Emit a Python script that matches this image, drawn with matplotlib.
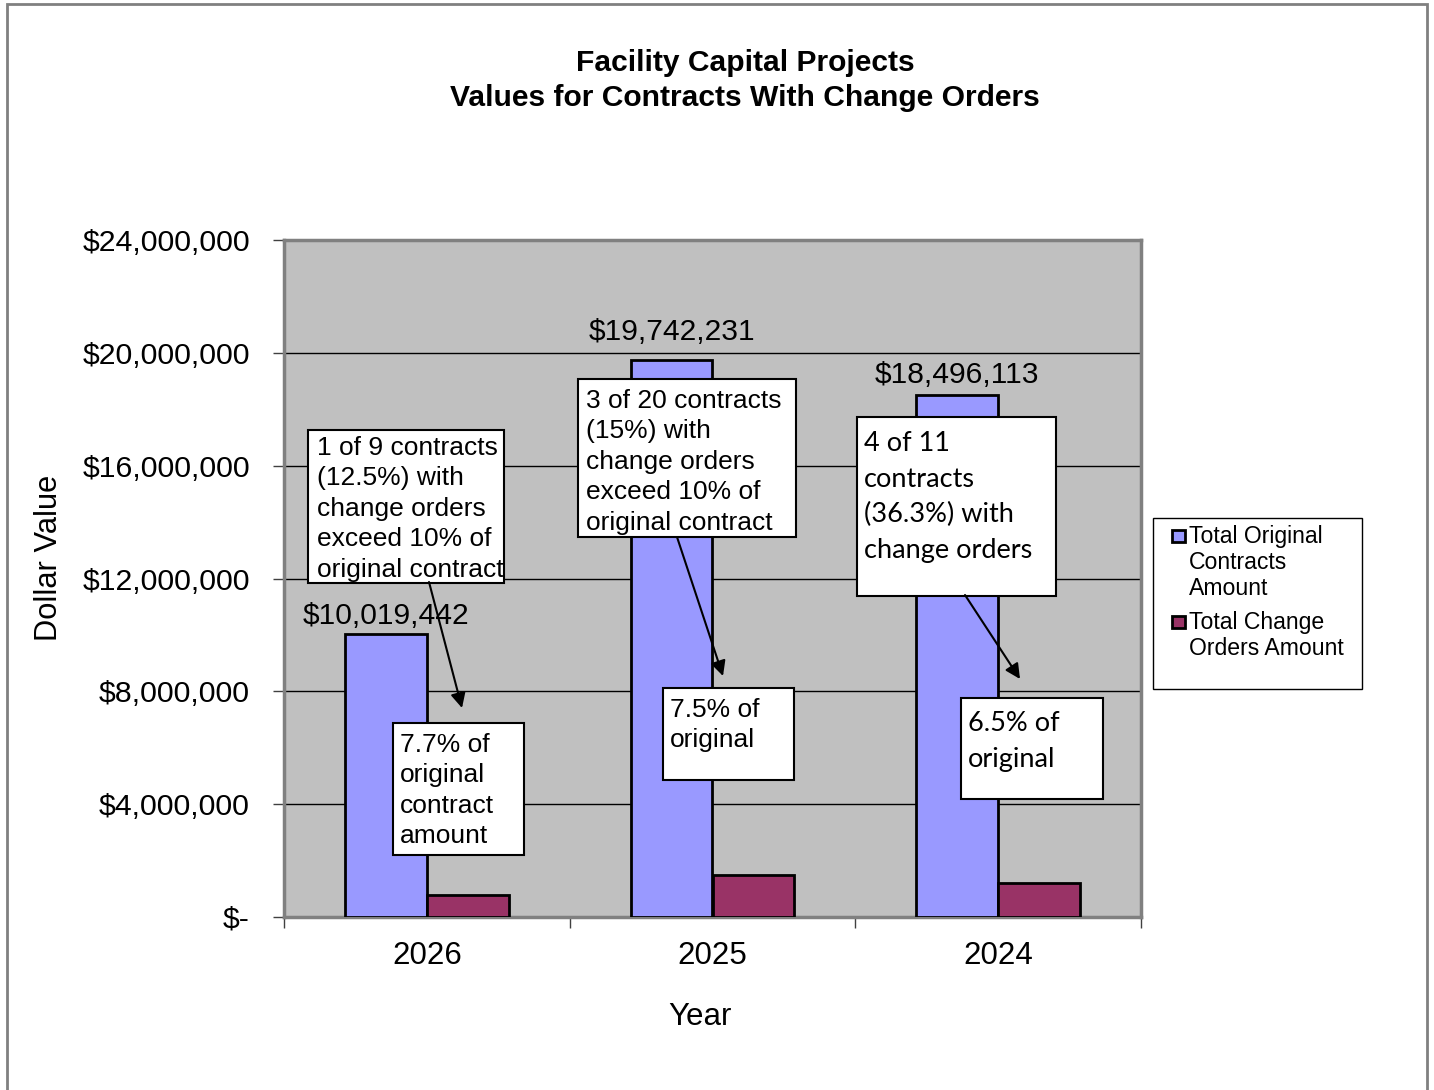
import matplotlib
matplotlib.use("Agg")
import matplotlib.pyplot as plt
from matplotlib.patches import Rectangle, FancyArrowPatch
from matplotlib.ticker import FuncFormatter, FixedLocator
import numpy as np

years = ["2026", "2025", "2024"]
original_amounts = [10019442, 19742231, 18496113]
change_amounts = [771497, 1480667, 1202247]
series_names = ["Total Original\nContracts\nAmount", "Total Change\nOrders Amount"]
series_colors = ["#9999FF", "#993366"]
bar_labels = ["$10,019,442", "$19,742,231", "$18,496,113"]

top_notes = [
    "1 of 9 contracts\n(12.5%) with\nchange orders\nexceed 10% of\noriginal contract",
    "3 of 20 contracts\n(15%) with\nchange orders\nexceed 10% of\noriginal contract",
    "4 of 11\ncontracts\n(36.3%) with\nchange orders",
]
bottom_notes = [
    "7.7% of\noriginal\ncontract\namount",
    "7.5% of\noriginal",
    "6.5% of\noriginal",
]

W, H = 1434, 1090
ARIAL = "Liberation Sans"
CALIBRI = "Lato"

fig = plt.figure(figsize=(W / 100, H / 100), dpi=100)


def fx(x):
    return x / W


def fy(y):
    return 1 - y / H


# outer border
fig.patches.append(Rectangle((fx(7), fy(1095)), fx(1427) - fx(7), fy(4) - fy(1095),
                             transform=fig.transFigure, fill=False,
                             edgecolor="#808080", lw=2, zorder=0))

ax = fig.add_axes([fx(284), fy(917), fx(1141) - fx(284), fy(240) - fy(917)])
ax.set_facecolor("#C0C0C0")

x = np.arange(len(years))
w = 0.287
ax.bar(x - w / 2, original_amounts, w, color=series_colors[0], edgecolor="black", lw=2,
       zorder=3)
ax.bar(x + w / 2, change_amounts, w, color=series_colors[1], edgecolor="black", lw=2,
       zorder=3)

label_offsets_pt = [13.5, 20, 14.5]
for xi, v, lab, off in zip(x, original_amounts, bar_labels, label_offsets_pt):
    ax.annotate(lab, (xi - w / 2, v), xytext=(0, off), textcoords="offset points",
                ha="center", va="center", fontsize=21.6, family=ARIAL, zorder=4)

ax.set_xlim(-0.5, 2.5)
ax.set_ylim(0, 24000000)
ax.yaxis.set_major_locator(FixedLocator(np.arange(0, 24000001, 4000000)))
ax.yaxis.set_major_formatter(FuncFormatter(lambda v, p: "$-" if v == 0 else f"${v:,.0f}"))
ax.set_xticks(x)
ax.set_xticklabels(years)
ax.set_xticks([-0.5, 0.5, 1.5, 2.5], minor=True)
ax.tick_params(axis="x", which="major", length=0, pad=17, labelsize=22.5)
ax.tick_params(axis="x", which="minor", length=8, width=1, color="#404040")
ax.tick_params(axis="y", length=8, width=1, color="#404040", pad=16.5, labelsize=21.8)
for lbl in ax.get_xticklabels() + ax.get_yticklabels():
    lbl.set_family(ARIAL)

ax.yaxis.grid(True, color="black", lw=1, zorder=1)
ax.set_axisbelow(True)
for s in ax.spines.values():
    s.set_color("#808080")
    s.set_linewidth(2.5)

ax.set_ylabel("Dollar Value", fontsize=22.2, family=ARIAL)
ax.yaxis.label.set_va("center")
ax.yaxis.set_label_coords((49 - 284) / 857, 1 - (558 - 240) / 677)
ax.set_xlabel("Year", fontsize=22.5, family=ARIAL)
ax.xaxis.label.set_va("center")
ax.xaxis.set_label_coords((700 - 284) / 857, -(1017 - 917) / 677)

fig.text(fx(745), fy(63), "Facility Capital Projects", ha="center", va="center",
         fontsize=21.6, fontweight="bold", family=ARIAL)
fig.text(fx(745), fy(98), "Values for Contracts With Change Orders", ha="center",
         va="center", fontsize=21.6, fontweight="bold", family=ARIAL)


def note_box(x0, y0, x1, y1, text, family, size, ls, tx=10, ty=6):
    fig.patches.append(Rectangle((fx(x0), fy(y1)), fx(x1) - fx(x0), fy(y0) - fy(y1),
                                 transform=fig.transFigure, facecolor="white",
                                 edgecolor="black", lw=1.5, zorder=5))
    fig.text(fx(x0 + tx), fy(y0 + ty), text, ha="left", va="top", fontsize=size,
             family=family, linespacing=ls, zorder=6)


def arrow(x0, y0, x1, y1):
    fig.add_artist(FancyArrowPatch(
        (fx(x0), fy(y0)), (fx(x1), fy(y1)), transform=fig.transFigure,
        arrowstyle="-|>,head_length=9,head_width=4.5", color="black", lw=1.5,
        zorder=7, shrinkA=0, shrinkB=0))


arrow(429, 582, 462, 708)
arrow(677, 537, 723, 676)
arrow(965, 595, 1020, 679)

AR_LS = 1.34
CA_LS = 1.53
note_box(308, 430, 504, 583, top_notes[0], ARIAL, 19, AR_LS, tx=9, ty=6)
note_box(578, 379, 796, 537, top_notes[1], ARIAL, 19, AR_LS, tx=8, ty=10)
note_box(857, 417, 1056, 596, top_notes[2], CALIBRI, 19.5, CA_LS, tx=7, ty=14)
note_box(393, 723, 524, 855, bottom_notes[0], ARIAL, 19, AR_LS, tx=7, ty=10)
note_box(663, 688, 794, 780, bottom_notes[1], ARIAL, 19, AR_LS, tx=7, ty=10)
note_box(961, 698, 1103, 799, bottom_notes[2], CALIBRI, 19.5, CA_LS, tx=7, ty=13)

# legend (drawn manually so markers sit at first text line)
fig.patches.append(Rectangle((fx(1153), fy(689)), fx(1362) - fx(1153), fy(518) - fy(689),
                             transform=fig.transFigure, facecolor="white",
                             edgecolor="black", lw=1, zorder=5))
legend_rows_y = [536, 622]
for name, col, yy in zip(series_names, series_colors, legend_rows_y):
    fig.patches.append(Rectangle((fx(1172), fy(yy + 6)), fx(1185) - fx(1172),
                                 fy(yy - 6) - fy(yy + 6), transform=fig.transFigure,
                                 facecolor=col, edgecolor="black", lw=2, zorder=6))
    fig.text(fx(1189), fy(yy - 11), name, ha="left", va="top", fontsize=16.6,
             family=ARIAL, linespacing=1.18, zorder=6)

fig.savefig("out.png", dpi=100)
